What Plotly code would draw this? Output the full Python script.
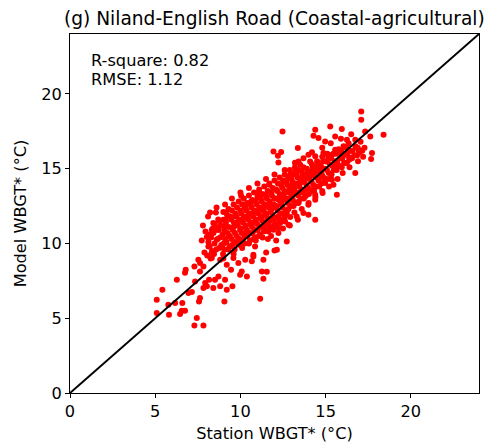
import plotly.graph_objects as go

# ---- data (station WBGT*, model WBGT*) ----
sparse_pts = [
    (7.53, 8.91), (7.44, 5.01), (7.30, 4.52), (7.83, 4.52), (5.09, 6.24), (5.42, 6.91),
    (6.27, 7.57), (6.79, 8.24), (6.75, 8.04), (5.09, 5.35), (5.81, 5.23), (5.77, 5.90),
    (6.17, 6.02), (6.59, 6.02), (6.56, 5.50), (6.75, 5.50), (6.46, 5.28), (6.95, 6.68),
    (7.15, 6.75), (7.63, 6.35), (7.57, 6.12), (9.06, 6.12), (11.16, 6.30), (11.35, 7.64),
    (10.38, 7.79), (9.53, 7.13), (9.10, 7.57), (8.81, 7.13), (8.41, 7.02), (8.03, 7.13),
    (7.83, 7.02), (7.93, 7.35), (8.16, 7.57), (8.51, 7.57), (8.71, 7.79), (9.20, 6.91),
    (7.34, 7.46), (7.63, 8.13), (7.30, 8.46), (7.83, 8.46), (7.63, 8.69), (8.32, 9.02),
    (8.81, 8.91), (9.20, 8.58), (9.45, 8.24), (9.88, 8.69), (10.08, 8.13), (9.98, 7.91),
    (9.59, 9.02), (10.28, 8.91), (10.67, 8.80), (10.76, 9.13), (11.26, 8.13),
]

right_pts = [
    (12.00, 9.53), (11.51, 9.40), (11.61, 10.29), (12.23, 10.70), (12.82, 11.25),
    (13.37, 11.59), (14.39, 11.59), (13.70, 12.03), (13.99, 11.92), (13.17, 12.07),
    (12.92, 11.76), (12.62, 11.47), (12.33, 11.36), (12.72, 12.03), (13.41, 12.70),
    (13.99, 12.59), (14.39, 12.92), (14.39, 13.26), (14.82, 13.37), (15.66, 13.26),
    (14.29, 13.59), (14.97, 14.04), (15.46, 13.92), (13.80, 13.14), (13.80, 13.59),
    (13.41, 13.37), (13.02, 12.92), (12.23, 11.03), (11.94, 10.92), (11.64, 10.80),
    (12.14, 9.58), (12.72, 10.13), (11.35, 8.91), (11.55, 8.10),
]

upper_pts = [
    (17.09, 18.82), (17.09, 18.27), (18.40, 17.27), (12.47, 17.49), (14.39, 17.60),
    (14.29, 17.20), (15.27, 17.82), (15.95, 17.65), (11.94, 16.15), (12.39, 16.11),
    (12.20, 15.86), (12.23, 15.41), (13.37, 16.38), (13.41, 15.48), (13.51, 15.26),
    (14.58, 17.05), (15.56, 17.15), (14.97, 16.82), (16.74, 14.71), (17.72, 16.04),
    (17.67, 15.64), (17.62, 17.15), (17.32, 17.49), (16.25, 16.93), (16.74, 16.93),
    (16.34, 16.15), (16.93, 16.26), (16.44, 15.71), (15.95, 15.93), (15.56, 16.26),
    (15.37, 15.93), (14.87, 16.04), (14.39, 15.82), (13.99, 15.93), (14.09, 15.48),
    (15.07, 15.48), (14.58, 15.26), (15.66, 15.26), (16.15, 15.37), (13.21, 14.81),
    (12.92, 14.59), (12.62, 14.14), (13.90, 14.48), (14.78, 14.48), (15.37, 14.26),
    (11.69, 13.92), (13.51, 14.04), (14.39, 14.81),
]

left_pts = [
    (10.04, 13.19), (11.06, 13.41), (10.63, 12.81), (8.22, 12.07), (8.56, 12.07),
    (9.14, 12.07), (8.41, 11.36), (9.00, 11.59), (7.73, 10.20), (8.03, 10.43),
    (8.32, 10.92), (8.67, 11.03), (9.10, 11.14), (9.69, 11.81), (9.69, 11.25),
    (10.28, 12.37), (10.18, 12.59), (9.30, 10.47), (8.61, 10.25), (8.12, 9.80),
    (7.89, 9.40), (8.32, 9.40), (8.91, 9.80), (9.40, 9.80), (9.88, 10.25),
    (10.28, 10.70), (10.67, 11.36), (10.86, 9.80), (10.76, 9.25), (11.26, 11.81),
]

halo_pts = [
    (9.0, 9.0), (9.6, 9.3), (10.1, 9.7), (10.5, 10.0), (10.9, 10.2), (11.3, 10.4),
    (11.8, 10.5), (12.1, 10.2), (12.5, 11.0), (12.9, 11.2), (13.3, 11.8), (13.6, 12.3),
    (14.0, 12.7), (14.4, 13.1), (14.8, 13.5), (15.2, 13.8), (15.7, 14.3), (16.0, 14.7),
    (16.4, 15.1), (16.9, 15.5), (17.2, 15.8),
    (7.8, 11.2), (8.1, 11.8), (8.6, 12.4), (9.1, 12.6), (9.5, 13.0), (10.0, 13.4),
    (10.5, 13.7), (11.0, 14.0), (11.5, 14.3), (12.0, 14.6), (12.6, 14.9), (13.2, 15.4),
    (13.7, 15.7), (14.2, 16.1), (14.8, 16.4), (15.3, 16.7), (15.9, 17.0), (16.5, 17.3),
]

core_pts = [
    (8.05, 9.2), (8.12, 10.1), (7.95, 10.8), (8.34, 9.5), (8.28, 10.4), (8.38, 11.0), (8.25, 9.0),
    (8.58, 9.6), (8.66, 10.3), (8.55, 10.9), (8.70, 11.6),
    (8.88, 9.9), (8.95, 10.6), (8.84, 11.2), (8.98, 9.3), (9.02, 10.0),
    (9.18, 10.1), (9.25, 10.7), (9.15, 11.4), (9.28, 9.6), (9.22, 11.9),
    (9.48, 10.3), (9.55, 10.9), (9.45, 11.6), (9.52, 9.9), (9.60, 11.1), (9.50, 12.2),
    (9.78, 10.5), (9.85, 11.2), (9.76, 11.8), (9.82, 10.0), (9.90, 11.5), (9.80, 12.4),
    (10.08, 10.7), (10.15, 11.4), (10.05, 12.0), (10.12, 10.2), (10.20, 11.7), (10.10, 12.6), (10.02, 11.0),
    (10.38, 10.9), (10.45, 11.6), (10.35, 12.2), (10.42, 10.5), (10.50, 11.9), (10.40, 12.7), (10.32, 11.2),
    (10.68, 11.1), (10.75, 11.8), (10.65, 12.4), (10.72, 10.7), (10.80, 12.1), (10.70, 12.9), (10.62, 11.4), (10.78, 10.3),
    (10.98, 11.3), (11.05, 12.0), (10.95, 12.6), (11.02, 10.9), (11.10, 12.3), (11.00, 13.1), (10.92, 11.6), (11.08, 10.5),
    (11.28, 11.5), (11.35, 12.2), (11.25, 12.8), (11.32, 11.1), (11.40, 12.5), (11.30, 13.3), (11.22, 11.8), (11.38, 10.8),
    (11.58, 11.7), (11.65, 12.4), (11.55, 13.0), (11.62, 11.3), (11.70, 12.7), (11.60, 13.5), (11.52, 12.0), (11.68, 11.0),
    (11.88, 11.9), (11.95, 12.6), (11.85, 13.2), (11.92, 11.6), (12.00, 13.0), (11.90, 13.7), (11.82, 12.3), (11.98, 11.2),
    (12.18, 12.2), (12.25, 12.9), (12.15, 13.5), (12.22, 11.8), (12.30, 13.2), (12.20, 14.0), (12.12, 12.5), (12.28, 11.5),
    (12.48, 12.4), (12.55, 13.1), (12.45, 13.7), (12.52, 12.0), (12.60, 13.4), (12.50, 14.2), (12.42, 12.8), (12.58, 11.7),
    (12.78, 12.7), (12.85, 13.4), (12.75, 13.9), (12.82, 12.3), (12.90, 13.6), (12.80, 14.4), (12.72, 13.0),
    (13.08, 12.9), (13.15, 13.6), (13.05, 14.1), (13.12, 12.5), (13.20, 13.9), (13.10, 14.6), (13.02, 13.3),
    (13.38, 13.2), (13.45, 13.8), (13.35, 14.4), (13.42, 12.8), (13.50, 14.1), (13.40, 14.9),
    (13.68, 13.4), (13.75, 14.1), (13.65, 14.6), (13.72, 13.0), (13.80, 14.4), (13.70, 15.1),
    (13.98, 13.7), (14.05, 14.3), (13.95, 14.8), (14.02, 13.3), (14.10, 14.6),
    (14.28, 13.9), (14.35, 14.5), (14.25, 15.1), (14.32, 13.5), (14.40, 14.8),
    (14.58, 14.2), (14.65, 14.8), (14.55, 15.3), (14.62, 13.8), (14.70, 15.0),
    (14.88, 14.4), (14.95, 15.0), (14.85, 15.5), (14.92, 14.1),
    (15.18, 14.7), (15.25, 15.3), (15.15, 15.8), (15.22, 14.3),
    (15.48, 14.9), (15.55, 15.5), (15.45, 16.0), (15.52, 15.2),
    (15.78, 15.2), (15.85, 15.7), (15.75, 16.3),
    (16.08, 15.4), (16.15, 16.0), (16.05, 16.5),
    (16.38, 15.6), (16.45, 16.2), (16.35, 16.7),
    (16.68, 15.9), (16.75, 16.5),
    (16.98, 16.1), (17.05, 16.8),
    (17.28, 16.4),
]

core_fill_pts = [
    (8.20, 9.8), (8.18, 10.6), (8.45, 9.3), (8.48, 10.0), (8.42, 10.7), (8.50, 11.3),
    (8.75, 9.7), (8.80, 10.4), (8.72, 10.9), (8.78, 11.5),
    (9.05, 9.6), (9.10, 10.3), (9.05, 10.9), (9.12, 11.6), (9.00, 12.1),
    (9.35, 9.8), (9.38, 10.5), (9.32, 11.1), (9.40, 11.8), (9.30, 12.3),
    (9.65, 10.1), (9.68, 10.7), (9.62, 11.4), (9.70, 12.0), (9.60, 12.6), (9.66, 9.6),
    (9.95, 10.3), (9.98, 10.9), (9.92, 11.6), (10.00, 12.2), (9.90, 12.8), (9.96, 9.9),
    (10.25, 10.5), (10.28, 11.1), (10.22, 11.8), (10.30, 12.4), (10.20, 13.0), (10.26, 10.0),
    (10.55, 10.7), (10.58, 11.3), (10.52, 12.0), (10.60, 12.6), (10.50, 13.2), (10.56, 10.2),
    (10.85, 10.9), (10.88, 11.5), (10.82, 12.2), (10.90, 12.8), (10.80, 13.4), (10.86, 10.4),
    (11.15, 11.1), (11.18, 11.7), (11.12, 12.4), (11.20, 13.0), (11.10, 13.6), (11.16, 10.6),
    (11.45, 11.3), (11.48, 11.9), (11.42, 12.6), (11.50, 13.2), (11.40, 13.8), (11.46, 10.9),
    (11.75, 11.5), (11.78, 12.1), (11.72, 12.8), (11.80, 13.4), (11.70, 14.0), (11.76, 11.1),
    (12.05, 11.7), (12.08, 12.4), (12.02, 13.0), (12.10, 13.6), (12.00, 14.2), (12.06, 11.3),
    (12.35, 12.0), (12.38, 12.6), (12.32, 13.3), (12.40, 13.9), (12.30, 14.4), (12.36, 11.6),
    (12.65, 12.2), (12.68, 12.9), (12.62, 13.5), (12.70, 14.1), (12.60, 14.6), (12.66, 11.9),
    (12.95, 12.5), (12.98, 13.1), (12.92, 13.8), (13.00, 14.3), (12.90, 14.9),
    (13.25, 12.7), (13.28, 13.4), (13.22, 14.0), (13.30, 14.6), (13.20, 15.1),
    (13.55, 13.0), (13.58, 13.6), (13.52, 14.3), (13.60, 14.8),
    (13.85, 13.2), (13.88, 13.9), (13.82, 14.5), (13.90, 15.0),
    (14.15, 13.5), (14.18, 14.1), (14.12, 14.8), (14.20, 15.3),
    (14.45, 13.8), (14.48, 14.4), (14.42, 15.0), (14.50, 15.5),
    (14.75, 14.0), (14.78, 14.6), (14.72, 15.2), (14.80, 15.8),
    (15.05, 14.3), (15.08, 14.9), (15.02, 15.5), (15.10, 16.0),
    (15.35, 14.6), (15.38, 15.2), (15.32, 15.7),
    (15.65, 14.9), (15.68, 15.4), (15.62, 16.0),
    (15.95, 15.1), (15.98, 15.7), (15.92, 16.2),
    (16.25, 15.4), (16.28, 15.9), (16.22, 16.4),
    (16.55, 15.7), (16.58, 16.2),
    (16.85, 15.9), (16.88, 16.4),
    (17.15, 16.2),
]

all_pts = sparse_pts + right_pts + upper_pts + left_pts + halo_pts + core_pts + core_fill_pts
station_wbgt = [p[0] for p in all_pts]
model_wbgt = [p[1] for p in all_pts]

axis_range = [0, 24]
tick_vals = [0, 5, 10, 15, 20]
title_text = "(g) Niland-English Road (Coastal-agricultural)"
stats_lines = ["R-square: 0.82", "RMSE: 1.12"]

FONT = "DejaVu Sans"
LABEL_SIZE = 16.2

fig = go.Figure()
fig.add_trace(go.Scatter(
    x=station_wbgt, y=model_wbgt, mode="markers",
    marker=dict(color="#ff0000", size=6, line=dict(width=0)),
    showlegend=False,
))
fig.add_trace(go.Scatter(
    x=axis_range, y=axis_range, mode="lines",
    line=dict(color="black", width=2), showlegend=False,
))

axis_common = dict(
    range=axis_range, tickvals=tick_vals, showgrid=False, zeroline=False,
    showline=True, linecolor="black", linewidth=1, mirror=True,
    ticks="outside", ticklen=4, tickcolor="black",
    tickfont=dict(family=FONT, size=LABEL_SIZE, color="black"),
)
fig.update_xaxes(**axis_common,
                 title=dict(text="Station WBGT* (°C)", font=dict(family=FONT, size=LABEL_SIZE, color="black"), standoff=7))
fig.update_yaxes(**axis_common,
                 title=dict(text="Model WBGT* (°C)", font=dict(family=FONT, size=LABEL_SIZE, color="black"), standoff=10))

for txt, ypos in zip(stats_lines, [0.925, 0.874]):
    fig.add_annotation(
        text=txt, xref="paper", yref="paper", x=0.047, y=ypos,
        xanchor="left", yanchor="middle", showarrow=False, align="left",
        font=dict(family=FONT, size=LABEL_SIZE, color="black"),
    )

fig.update_layout(
    width=497, height=447,
    margin=dict(l=70, r=18, t=34, b=54, autoexpand=False),
    paper_bgcolor="white", plot_bgcolor="white",
    title=dict(text=title_text, x=0.552, xanchor="center", y=0.958, yanchor="middle",
               font=dict(family=FONT, size=18.6, color="black")),
)

fig.write_html("out.html")
